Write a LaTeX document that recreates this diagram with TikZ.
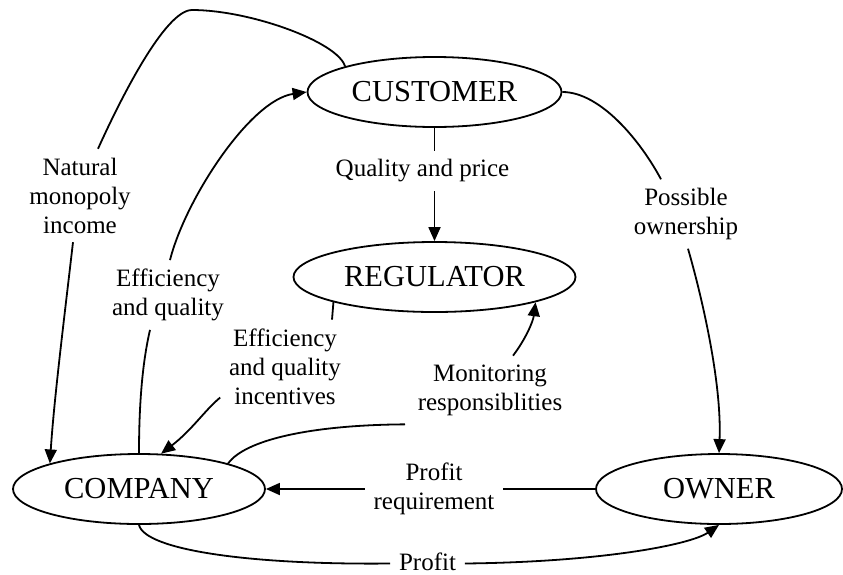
\documentclass[tikz,border=0pt]{standalone}
\usepackage{fontspec}
\setmainfont{Liberation Serif}
\usetikzlibrary{arrows.meta,shapes.geometric}

\begin{document}
\begin{tikzpicture}[x=1pt,y=-1pt,>={Triangle[length=14pt,width=12pt]},line width=1.8pt,
  ent/.style={draw,ellipse,inner sep=0pt,minimum height=70pt,font={\fontsize{30.5}{36}\selectfont}},
  lbl/.style={align=center,inner xsep=8pt,inner ysep=8pt,font={\fontsize{25}{29}\selectfont}}]
\useasboundingbox (0,0) rectangle (843,574);
\node[ent,minimum width=254pt] (cust) at (434.5,92) {CUSTOMER};
\node[ent,minimum width=282pt] (reg) at (434.5,277) {REGULATOR};
\node[ent,minimum width=252pt] (comp) at (139,489) {COMPANY};
\node[ent,minimum width=246pt] (own) at (719,489) {OWNER};

\node[lbl] (nat) at (80,195.5) {Natural\\monopoly\\income};
\node[lbl] (eq) at (168,295) {Efficiency\\and quality};
\node[lbl] (qp) at (422.5,171) {Quality and price};
\node[lbl] (inc) at (285,366.5) {Efficiency\\and quality\\incentives};
\node[lbl] (mon) at (490,390) {Monitoring\\responsiblities};
\node[lbl] (preq) at (434,488.5) {Profit\\requirement};
\node[lbl] (prof) at (427.5,561.5) {Profit};
\node[lbl] (pos) at (686,214) {Possible\\ownership};

% customer to company, over the top
\draw (cust.164) .. controls (338,42) and (250,10) .. (192,10)
  .. controls (165,10) and (120,100) .. ([xshift=18pt]nat.north);
\draw[->] ([xshift=-7pt]nat.south) .. controls (64,320) and (54,400) .. (comp.164);

% company to customer
\draw (comp.north) .. controls (139,400) and (143,360) .. ([xshift=-18pt]eq.south);
\draw[->] ([xshift=2pt]eq.north) .. controls (185,200) and (250,100) .. (cust.west);

% customer to regulator
\draw (cust.south) -- (qp.north -| cust.south);
\draw[->] (qp.south -| cust.south) -- (reg.north);

% regulator and company
\draw (reg.194) -- ([xshift=47pt]inc.north);
\draw[->] ([yshift=-31pt]inc.west) .. controls (205,410) and (192,430) .. (comp.58);
\draw (comp.16) .. controls (245,440) and (310,425) .. ([xshift=-85pt]mon.south);
\draw[->] ([xshift=23pt]mon.north) .. controls (525,340) and (533,322) .. (reg.346);

% owner and company
\draw (own.west) -- (own.west -| preq.east);
\draw[->] (comp.east -| preq.west) -- (comp.east);
\draw (comp.south) .. controls (145,550) and (250,565) .. ([yshift=-2pt]prof.west);
\draw[->] ([yshift=-2pt]prof.east) .. controls (600,562) and (690,545) .. (own.south);

% customer to owner
\draw (cust.east) .. controls (600,92) and (640,140) .. ([xshift=-25pt]pos.north);
\draw[->] ([xshift=2pt]pos.south) .. controls (700,290) and (722,380) .. (own.north);
\end{tikzpicture}
\end{document}
